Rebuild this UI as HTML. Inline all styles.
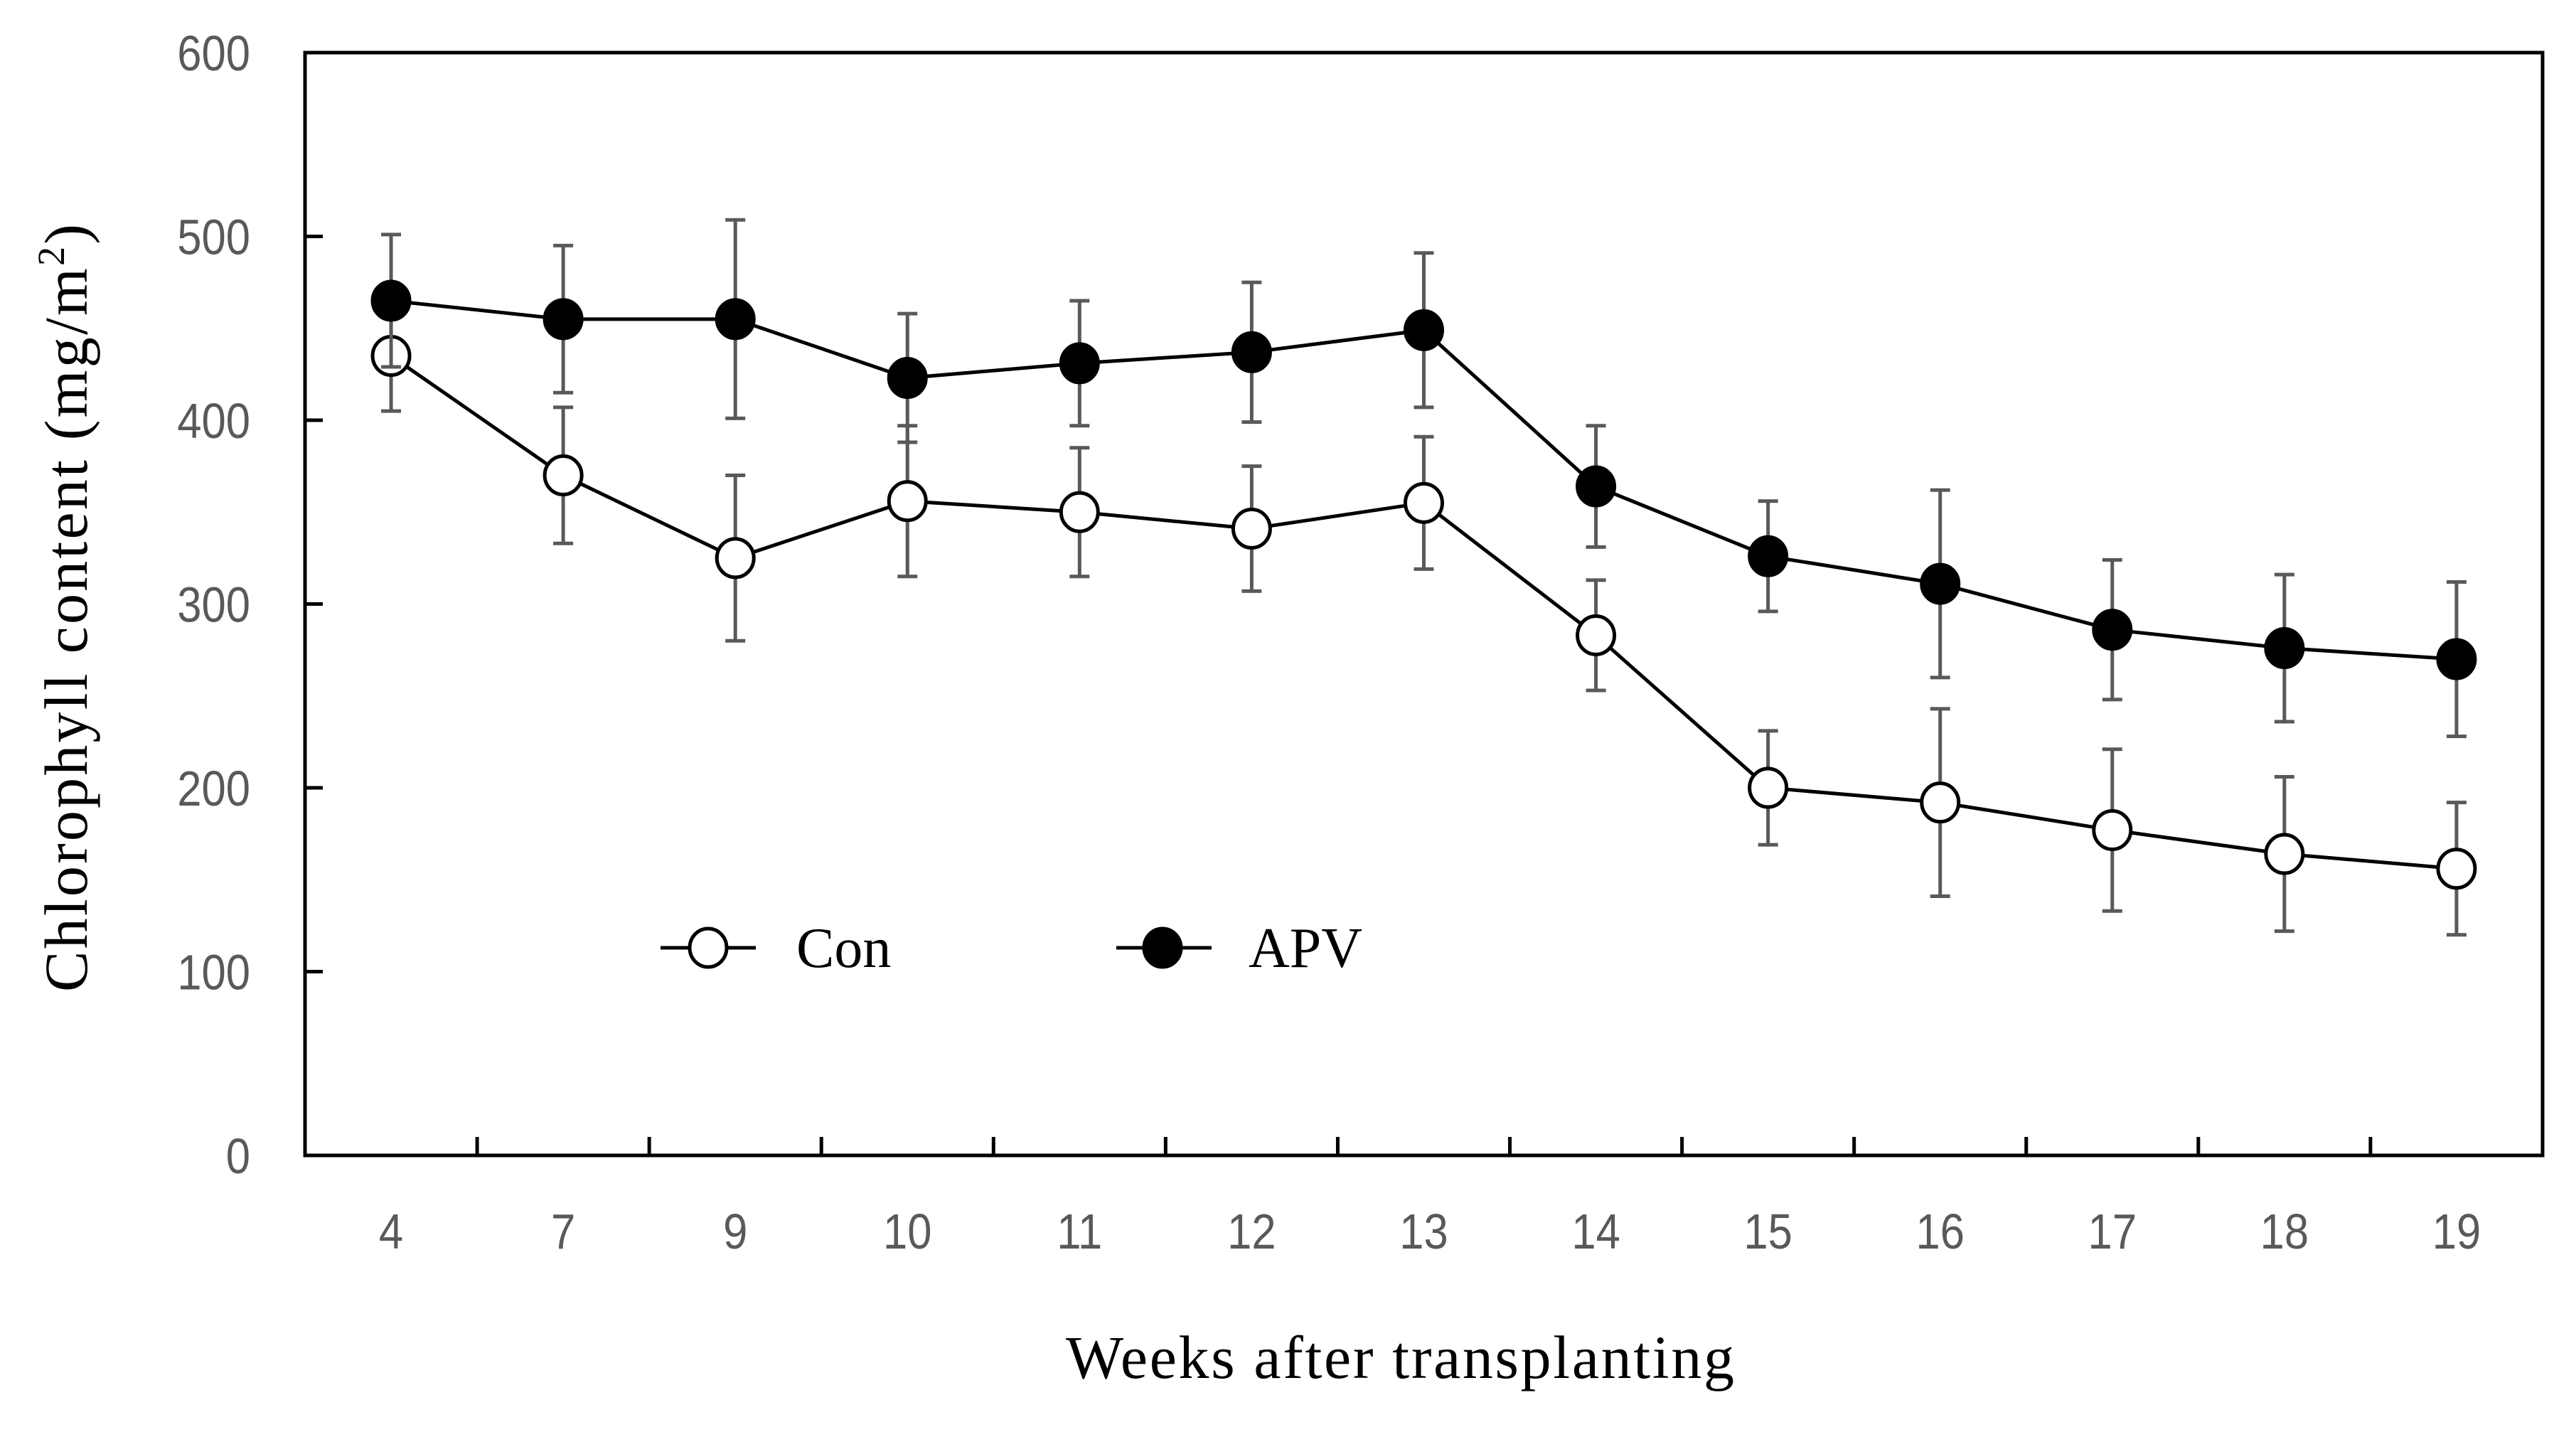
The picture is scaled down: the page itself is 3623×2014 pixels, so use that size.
<!DOCTYPE html>
<html><head><meta charset="utf-8"><style>html,body{margin:0;padding:0;background:#fff;}</style></head>
<body>
<svg id="chart" xmlns="http://www.w3.org/2000/svg" width="3623" height="2009" viewBox="0 0 3623 2009">
<rect x="0" y="0" width="3623" height="2009" fill="#fff"/>
<g id="plot"></g>
</svg>
<script>
const categories = ["4","7","9","10","11","12","13","14","15","16","17","18","19"];
const conValues = [435,370,325,356,350,341,355,283,200,192,177,164,156];
const conErrors = [30,37,45,41,35,34,36,30,31,51,44,42,36];
const apvValues = [465,455,455,423,431,437,449,364,326,311,286,276,270];
const apvErrors = [36,40,54,35,34,38,42,33,30,51,38,40,42];
const yTicks = [0,100,200,300,400,500,600];

const NS = "http://www.w3.org/2000/svg";
const L = 429, R = 3576, T = 74, B = 1625;
const band = (R - L) / categories.length;
function xPos(i){ return L + band * (i + 0.5); }
function yPos(v){ return B - (v / 600) * (B - T); }
const g = document.getElementById('plot');
function mk(tag, attrs, parent){
  const e = document.createElementNS(NS, tag);
  for (const k in attrs) e.setAttribute(k, attrs[k]);
  (parent || g).appendChild(e);
  return e;
}

yTicks.forEach(v => {
  const t = mk('line', {x1:L, x2:L+25, y1:yPos(v), y2:yPos(v), stroke:'#000', 'stroke-width':5});
  
  
  const tx = mk('text', {x:0, y:0, 'text-anchor':'end', 'font-family':'Liberation Sans Narrow, Liberation Sans, sans-serif', 'font-size':70, fill:'#595959', transform:`translate(352,${yPos(v)+25}) scale(0.88,1)`});
  tx.textContent = v;
  
  
});
for (let i = 1; i < categories.length; i++){
  const x = L + band * i;
  const t = mk('line', {x1:x, x2:x, y1:B, y2:B-26, stroke:'#000', 'stroke-width':5});
  
  
}
categories.forEach((c, i) => {
  const tx = mk('text', {x:0, y:0, 'text-anchor':'middle', 'font-family':'Liberation Sans Narrow, Liberation Sans, sans-serif', 'font-size':70, fill:'#595959', transform:`translate(${xPos(i)},1756) scale(0.88,1)`});
  tx.textContent = c;
  
  
});
const fr = mk('rect', {x:L, y:T, width:R-L, height:B-T, fill:'none', stroke:'#000', 'stroke-width':5});



function series(vals, errs, fill, name){
  errs.forEach((e, i) => {
    const x = xPos(i), y1 = yPos(vals[i]+e), y2 = yPos(vals[i]-e);
    const eb = mk('path', {d:`M${x},${y1}V${y2}M${x-14},${y1}H${x+14}M${x-14},${y2}H${x+14}`, stroke:'#595959', 'stroke-width':5, fill:'none'});
    
    
  });
  const d = vals.map((v, i) => (i ? 'L' : 'M') + xPos(i) + ',' + yPos(v)).join('');
  const ln = mk('path', {d:d, stroke:'#000', 'stroke-width':5, fill:'none'});
  
  
  vals.forEach((v, i) => {
    const c = mk('ellipse', {cx:xPos(i), cy:yPos(v), rx:26, ry:27, fill:fill, stroke:'#000', 'stroke-width':5});
    
    
  });
}
series(conValues, conErrors, '#fff', 'con');
series(apvValues, apvErrors, '#000', 'apv');

function legend(x1, x2, cx, fill, label, tx, name){
  const l = mk('line', {x1:x1, x2:x2, y1:1333, y2:1333, stroke:'#000', 'stroke-width':5});
  
  
  const c = mk('ellipse', {cx:cx, cy:1333, rx:26, ry:27, fill:fill, stroke:'#000', 'stroke-width':5});
  
  
  const t = mk('text', {x:tx, y:1360, 'font-family':'Liberation Serif, serif', 'font-size':80, fill:'#000'});
  t.textContent = label;
  
  
}
legend(929, 1063, 996, '#fff', 'Con', 1120, 'con');
legend(1570, 1704, 1635, '#000', 'APV', 1756, 'apv');

const xt = mk('text', {x:1969, y:1938, 'text-anchor':'middle', 'font-family':'Liberation Serif, serif', 'font-size':86, fill:'#000', textLength:940, lengthAdjust:'spacing'});
xt.textContent = 'Weeks after transplanting';


const yt = mk('text', {x:0, y:0, 'text-anchor':'middle', 'font-family':'Liberation Serif, serif', 'font-size':86, fill:'#000', transform:'translate(122,855) rotate(-90)', textLength:1080, lengthAdjust:'spacing'});
yt.innerHTML = 'Chlorophyll  content  (mg/m<tspan font-size="54" dy="-32">2</tspan><tspan dy="32">)</tspan>';


</script>
</body></html>
